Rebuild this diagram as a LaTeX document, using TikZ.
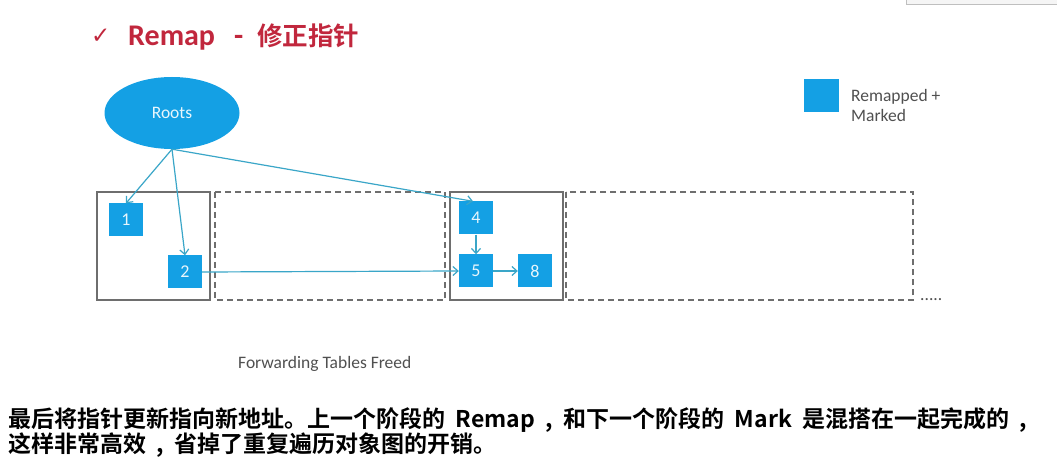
\documentclass[tikz,border=0pt]{standalone}
\usepackage{fontspec}
\setmainfont{Carlito}
\newfontfamily\cjkbold[BoldFont={Noto Sans CJK SC Bold}]{Noto Sans CJK SC}
\newfontfamily\symfont{DejaVu Sans}
\usetikzlibrary{arrows.meta,shapes.geometric}
\definecolor{titlered}{RGB}{193,39,61}
\definecolor{objblue}{RGB}{20,160,228}
\definecolor{refteal}{RGB}{58,166,200}
\definecolor{boxgray}{RGB}{110,110,110}
\definecolor{labelgray}{RGB}{80,80,80}
\tikzset{
  obj/.style={draw=none, fill=objblue, minimum width=34pt, minimum height=33pt,
    inner sep=0pt, text=white!90!objblue, font=\fontsize{18}{20}\selectfont},
  region/.style={draw=boxgray, line width=1.4pt},
  freed/.style={draw=boxgray, line width=1.4pt, dash pattern=on 6pt off 4pt},
  ref/.style={draw=refteal, line width=1.2pt, -{Straight Barb[length=5pt,width=9pt,line width=1.2pt]}},
  lbl/.style={text=labelgray, font=\fontsize{17.5}{20}\selectfont, inner sep=0pt},
  notefont/.style={font=\cjkbold\bfseries\fontsize{23}{25}\selectfont},
}
\begin{document}
\begin{tikzpicture}[x=1pt,y=-1pt]
\useasboundingbox[fill=white] (0,0) rectangle (1057,462);

% corner of a panel at the top right
\fill[black!4] (906,0) rectangle (1057,5);
\draw[black!25, line width=0.8pt] (906,0) -- (906,4) -- (1057,4);

% heading
\node[anchor=base west, inner sep=0pt, text=titlered] (chk) at (91,44) {\symfont\fontsize{23}{26}\selectfont ✓};
\node[anchor=base west, inner sep=0pt, text=titlered] (ttl) at (128,46)
  {\fontsize{30}{32}\selectfont\bfseries Remap};
\node[anchor=base west, inner sep=0pt, text=titlered] (dash) at (234,46)
  {\fontsize{30}{32}\selectfont\bfseries -};
\node[anchor=base west, inner sep=0pt, text=titlered] (ttlzh) at (257,46)
  {\cjkbold\fontsize{25.5}{30}\selectfont\bfseries 修正指针};

% roots
\node[ellipse, fill=objblue, minimum width=135pt, minimum height=72pt, inner sep=0pt,
  text=white!90!objblue, font=\fontsize{17.5}{20}\selectfont] (roots) at (172,113) {Roots};

% heap regions
\draw[region] (97,192) rectangle (210,300);
\draw[freed] (215,192) rectangle (445,300);
\draw[region] (450,192) rectangle (563,300);
\draw[freed] (566,192) rectangle (913,300);
\node[lbl, anchor=base west] (more) at (920,300) {.....};

% objects
\node[obj] (n1) at (126,220) {1};
\node[obj] (n2) at (185,272) {2};
\node[obj] (n4) at (476,218) {4};
\node[obj] (n5) at (476,271) {5};
\node[obj] (n8) at (535,271) {8};

% references
\draw[ref] (roots.south) -- (n1.north);
\draw[ref] (roots.south) -- (n2.north);
\draw[ref] (roots.south) -- ([xshift=-3pt]n4.north);
\draw[ref] (n2.east) -- (n5.west);
\draw[ref] (n4.south) -- (n5.north);
\draw[ref] (n5.east) -- (n8.west);

% legend
\node[obj, minimum width=35pt] (key) at (821.5,95.5) {};
\node[lbl, anchor=base west] (keytxt) at (851,102) {Remapped +};
\node[lbl, anchor=base west] (keytxt2) at (851,122) {Marked};

\node[lbl, anchor=base west] (caption) at (238,368) {Forwarding Tables Freed};

% explanation, two lines
\node[notefont, anchor=base west, inner sep=0pt, text=black] (note1) at (8,427)
  {最后将指针更新指向新地址。上一个阶段的 \ Remap \ , \ 和下一个阶段的 \ Mark \ 是混搭在一起完成的 \ ,};
\node[notefont, anchor=base west, inner sep=0pt, text=black] (note2) at (8,452)
  {这样非常高效 \ , \ 省掉了重复遍历对象图的开销。};
\end{tikzpicture}
\end{document}
